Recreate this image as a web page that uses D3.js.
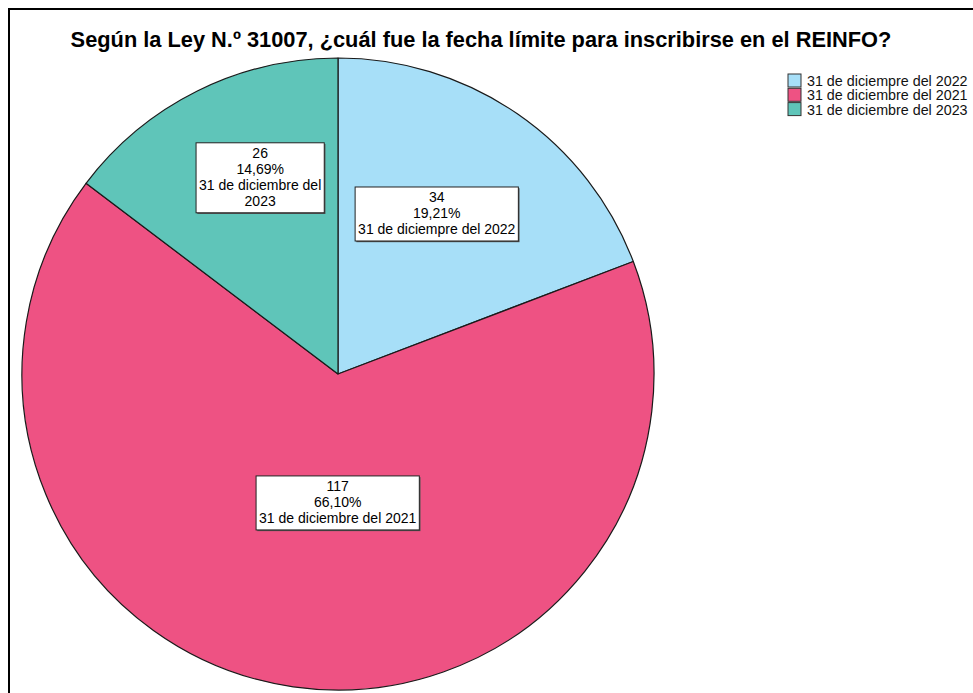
<!DOCTYPE html>
<html>
<head>
<meta charset="utf-8">
<script src="https://cdn.jsdelivr.net/npm/d3@7"></script>
<style>
  body { margin: 0; background: #fff; }
  svg text { font-family: "Liberation Sans", Arial, sans-serif; }
</style>
</head>
<body>
<div id="chart"></div>
<script>
// data
var categories = ["31 de diciempre del 2022", "31 de diciembre del 2021", "31 de diciembre del 2023"];
var counts = [34, 117, 26];
var percents = ["19,21%", "66,10%", "14,69%"];
var colors = ["#a7dff8", "#ee5283", "#5fc5b9"];
var title = "Según la Ley N.º 31007, ¿cuál fue la fecha límite para inscribirse en el REINFO?";

// label placement: fraction of radius, angle nudge (deg), wrap width
var labelRadius = [0.595, 0.408, 0.668];
var labelNudge = [-2.9, -8, 4.8];
var labelWrap = [200, 200, 140];

var width = 973, height = 693;
var cx = 338, cy = 374, r = 316;
var fs = 14;

var svg = d3.select("#chart")
    .append("svg")
    .attr("width", width)
    .attr("height", height);

// frame (right and bottom edges fall outside the crop)
svg.append("path")
    .attr("d", "M9," + (height + 5) + " V9 H" + (width + 5))
    .attr("fill", "none")
    .attr("stroke", "#000")
    .attr("stroke-width", 2);

svg.append("text")
    .attr("x", 481)
    .attr("y", 47)
    .attr("text-anchor", "middle")
    .style("font-size", "21.8px")
    .style("font-weight", "bold")
    .text(title);

var data = categories.map(function(c, i) {
    return {cat: c, count: counts[i], pct: percents[i], color: colors[i], i: i};
});

var pie = d3.pie().sort(null).value(function(d) { return d.count; });
var arc = d3.arc().innerRadius(0).outerRadius(r);
var arcs = pie(data);

var g = svg.append("g")
    .attr("transform", "translate(" + cx + "," + cy + ")");

g.selectAll("path.slice")
    .data(arcs)
    .enter()
    .append("path")
    .attr("class", "slice")
    .attr("d", arc)
    .attr("fill", function(d) { return d.data.color; })
    .attr("stroke", "#1a1a1a")
    .attr("stroke-width", 1.2)
    .attr("stroke-linejoin", "round");

// wrap a string into lines no wider than maxW
function wrapLines(str, maxW, measure) {
    var words = str.split(" "), lines = [], cur = "";
    words.forEach(function(w) {
        var t = cur ? cur + " " + w : w;
        if (measure(t) > maxW && cur) { lines.push(cur); cur = w; }
        else cur = t;
    });
    if (cur) lines.push(cur);
    return lines;
}

var probe = svg.append("text").style("font-size", fs + "px");
function measure(s) { probe.text(s); return probe.node().getComputedTextLength(); }

var lineH = 16;
arcs.forEach(function(a) {
    var d = a.data;
    var mid = (a.startAngle + a.endAngle) / 2 + labelNudge[d.i] * Math.PI / 180;
    var lr = labelRadius[d.i] * r;
    var lx = cx + Math.sin(mid) * lr;
    var ly = cy - Math.cos(mid) * lr;
    var lines = [String(d.count), d.pct].concat(wrapLines(d.cat, labelWrap[d.i], measure));
    var w = d3.max(lines, measure) + 6;
    var h = lines.length * lineH + 6;

    var lg = svg.append("g").attr("transform", "translate(" + lx + "," + ly + ")");
    lg.append("rect")
        .attr("x", -w / 2 + 1.2).attr("y", -h / 2 + 1.2)
        .attr("width", w).attr("height", h)
        .attr("fill", "#555");
    lg.append("rect")
        .attr("x", -w / 2).attr("y", -h / 2)
        .attr("width", w).attr("height", h)
        .attr("fill", "#fff")
        .attr("stroke", "#222")
        .attr("stroke-width", 1);
    lg.selectAll("text")
        .data(lines)
        .enter()
        .append("text")
        .attr("x", 0)
        .attr("y", function(t, k) { return -h / 2 + 3 + lineH * (k + 1) - 3.5; })
        .attr("text-anchor", "middle")
        .style("font-size", fs + "px")
        .attr("fill", "#000")
        .text(function(t) { return t; });
});
probe.remove();

// legend
var legend = svg.append("g").attr("transform", "translate(788,74)");
var rows = legend.selectAll("g")
    .data(data)
    .enter()
    .append("g")
    .attr("transform", function(d, i) { return "translate(0," + (i * 14.3) + ")"; });
rows.append("rect")
    .attr("width", 13).attr("height", 13)
    .attr("fill", function(d) { return d.color; })
    .attr("stroke", "#333")
    .attr("stroke-width", 1);
rows.append("text")
    .attr("x", 19)
    .attr("y", 12)
    .style("font-size", "14.3px")
    .attr("fill", "#111")
    .text(function(d) { return d.cat; });
</script>
</body>
</html>
